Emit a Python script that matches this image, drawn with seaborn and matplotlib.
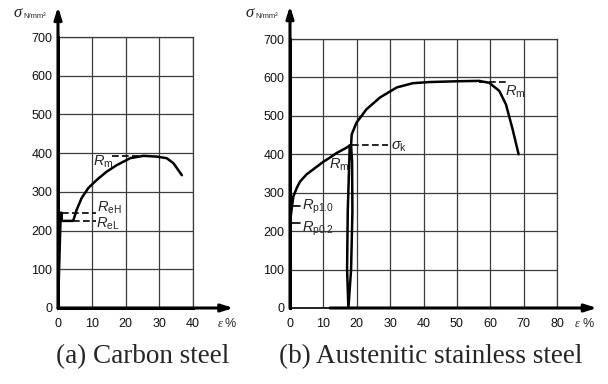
import seaborn as sns
import matplotlib.pyplot as plt

sns.set_style("white")
plt.rcParams['font.family'] = ['Liberation Sans', 'DejaVu Sans']
plt.rcParams['mathtext.fontset'] = 'custom'
plt.rcParams['mathtext.rm'] = 'Liberation Sans'
plt.rcParams['mathtext.it'] = 'Liberation Sans:italic'

# (a) carbon steel
carbon_eps = [0, 0.8, 1.1, 1.1, 4.5, 5.5, 7.0, 9.0, 11.5, 14.4, 17.4, 21.4, 25.3, 29.3, 32.2, 34.2, 36.7]
carbon_sig = [0, 246, 246, 225, 225, 253, 284, 310, 331, 352, 369, 387, 393, 391, 387, 374, 343]

# (b) austenitic stainless steel: first branch, unload/reload loop, second branch
aus1_eps = [0, 0, 0.2, 1.0, 2.0, 3.0, 5.0, 7.0, 9.9, 11.9, 13.9, 16.9, 17.9]
aus1_sig = [0, 200, 238, 290, 312, 329, 348, 361, 380, 391, 403, 417, 423]
loop_eps = [17.9, 17.3, 17.1, 17.5, 18.3, 18.7, 18.6, 18.3]
loop_sig = [423, 250, 100, 0, 100, 250, 380, 425]
aus2_eps = [18.3, 18.5, 19.9, 22.9, 27.0, 32.0, 36.8, 41.8, 50.0, 56.7, 59.7, 62.7, 64.7, 66.7, 68.5]
aus2_sig = [425, 452, 482, 517, 548, 574, 585, 588, 590, 591, 586, 565, 530, 465, 400]

y_ticks = [0, 100, 200, 300, 400, 500, 600, 700]
x_ticks_a = [0, 10, 20, 30, 40]
x_ticks_b = [0, 10, 20, 30, 40, 50, 60, 70, 80]

fig = plt.figure(figsize=(6.08, 3.84), dpi=100)
ax1 = fig.add_axes([58/608, 76/384, 135/608, 271/384])
ax2 = fig.add_axes([290/608, 76/384, 267/608, 269/384])


def frame(ax, xt, xmax, x_tip, y_tip, x_start=0):
    ax.set_xlim(0, xmax)
    ax.set_ylim(0, 700)
    ax.set_xticks(xt)
    ax.set_yticks(y_ticks)
    ax.grid(True, color='#3c3c3c', lw=0.9)
    ax.tick_params(length=0, labelsize=9, colors='#111')
    ax.tick_params(axis='x', pad=7)
    ax.tick_params(axis='y', pad=4)
    for s in ['top', 'right']:
        ax.spines[s].set_color('#3c3c3c')
        ax.spines[s].set_linewidth(0.9)
    ax.spines['left'].set_linewidth(2.2)
    ax.spines['left'].set_color('k')
    ax.spines['bottom'].set_linewidth(1.2 if x_start else 2.2)
    ax.spines['bottom'].set_color('k')
    ax.annotate('', xy=(x_tip, 0), xytext=(x_start, 0), annotation_clip=False,
                arrowprops=dict(arrowstyle='-|>,head_length=0.7,head_width=0.22',
                                lw=2.2, color='k', shrinkA=0, shrinkB=0))
    ax.annotate('', xy=(0, y_tip), xytext=(0, 0), annotation_clip=False,
                arrowprops=dict(arrowstyle='-|>,head_length=0.7,head_width=0.22',
                                lw=2.2, color='k', shrinkA=0, shrinkB=0))


frame(ax1, x_ticks_a, 40, 52, 778)
frame(ax2, x_ticks_b, 80, 92, 786, x_start=12)

sns.lineplot(x=carbon_eps, y=carbon_sig, sort=False, estimator=None, color='k', lw=1.8, ax=ax1)
for ex, sy in [(aus1_eps, aus1_sig), (loop_eps, loop_sig), (aus2_eps, aus2_sig)]:
    sns.lineplot(x=ex, y=sy, sort=False, estimator=None, color='k', lw=1.8, ax=ax2)

dash = dict(color='k', lw=1.2, ls=(0, (4, 2)))
# carbon steel marks
ax1.plot([1.1, 11.2], [246, 246], **dash)
ax1.plot([4.5, 11.2], [225, 225], **dash)
ax1.plot([15.9, 25.3], [393, 393], **dash)
ax1.text(11.6, 249, r'$R_{\mathrm{eH}}$', fontsize=10.5, va='baseline')
ax1.text(11.4, 208, r'$R_{\mathrm{eL}}$', fontsize=10.5, va='baseline')
ax1.text(10.5, 367, r'$R_{\mathrm{m}}$', fontsize=10.5, va='baseline')

# stainless steel marks
ax2.plot([0.3, 3.0], [266, 266], color='k', lw=1.2)
ax2.plot([0.3, 3.0], [220, 220], color='k', lw=1.2)
ax2.plot([18.6, 29.3], [424, 424], **dash)
ax2.plot([56.7, 65.6], [589, 589], **dash)
ax2.text(3.5, 255, r'$R_{\mathrm{p1.0}}$', fontsize=10.5, va='baseline')
ax2.text(3.5, 198, r'$R_{\mathrm{p0.2}}$', fontsize=10.5, va='baseline')
ax2.text(11.6, 363, r'$R_{\mathrm{m}}$', fontsize=10.5, va='baseline')
ax2.text(30.3, 413, r'$\sigma_{\mathrm{k}}$', fontsize=10.5, va='baseline')
ax2.text(64.5, 552, r'$R_{\mathrm{m}}$', fontsize=10.5, va='baseline')

# axis labels
for x0 in [13, 245]:
    fig.text(x0/608, 1 - 17/384, 'σ', fontsize=12, style='italic',
             family=['Liberation Serif', 'DejaVu Serif'], va='baseline')
    fig.text((x0 + 10)/608, 1 - 18/384, 'N/mm²', fontsize=5.5, va='baseline')
for ax, xe in [(ax1, 47.2), (ax2, 85.4)]:
    ax.text(xe, -0.059, 'ε', fontsize=9, style='italic', family=['Liberation Serif', 'DejaVu Serif'],
            transform=ax.get_xaxis_transform(), va='center')
    ax.text(xe + (2.2 if ax is ax1 else 2.3), -0.059, '%', fontsize=9,
            transform=ax.get_xaxis_transform(), va='center')

# captions
fig.text(143/608, 1 - 357/384, '(a) Carbon steel', fontsize=19.5, ha='center', va='center',
         family=['Liberation Serif', 'DejaVu Serif'])
fig.text(431/608, 1 - 357/384, '(b) Austenitic stainless steel', fontsize=19.5, ha='center',
         va='center', family=['Liberation Serif', 'DejaVu Serif'])

fig.savefig('out.png', dpi=100)
